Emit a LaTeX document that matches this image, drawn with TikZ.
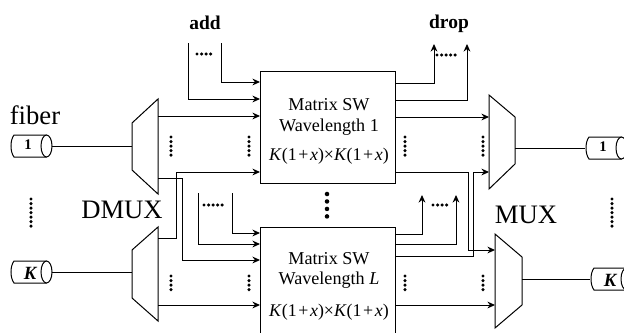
\documentclass[tikz,border=0pt]{standalone}
\usepackage{fontspec}
\setmainfont{Liberation Serif}
\usepackage{tikz}
\usetikzlibrary{arrows.meta,positioning,calc}
\tikzset{
  wire/.style={line width=0.75pt},
  wirearr/.style={-{Stealth[length=2mm,width=1.8mm]}, line width=0.75pt},
  trapz/.style={line width=0.75pt, line join=miter},
  dotcol/.style={line width=2.6pt, line cap=round, dash pattern=on 0pt off 3.4pt},
  swbox/.style={draw, line width=0.75pt, minimum width=101.25pt, inner sep=0pt, outer sep=0pt},
  fiberbox/.style={minimum height=16.5pt, minimum width=31.5pt, inner sep=0pt, outer sep=0pt},
  swtxt/.style={font=\fontsize{13.6}{15}\selectfont},
  swform/.style={font=\fontsize{13.4}{15}\selectfont},
  biglbl/.style={font=\fontsize{20}{22}\selectfont},
  toplbl/.style={font=\fontsize{14.6}{16}\selectfont\bfseries},
}
\newcommand{\formula}{\textit{K}(1\kern1.2pt+\kern1.2pt\textit{x})×\textit{K}(1\kern1.2pt+\kern1.2pt\textit{x})}
\newcommand{\fiberdraw}[2]{%
  \node[fiberbox] (#1) at #2 {};
  \draw[wire] ($(#1.north east)+(-5.5,0)$) -- ($(#1.north west)+(4,0)$)
    .. controls ($(#1.west)+(0,-6)$) and ($(#1.west)+(0,6)$) .. ($(#1.south west)+(4,0)$)
    -- ($(#1.south east)+(-5.5,0)$);
  \draw[wire] ($(#1.east)+(-5.5,0)$) ellipse [x radius=5.5, y radius=11];
}
\begin{document}
\begin{tikzpicture}[x=0.75pt,y=-0.75pt]
    \useasboundingbox (0,0) rectangle (624,332);
    % switch boxes
    \node[swbox, minimum height=84pt] (swa) at (327.5,127) {};
    \node[swbox, minimum height=79.5pt] (swb) at (327.5,280) {};
    \node[swtxt] (swatxta) at (329,105) {Matrix SW};
    \node[swtxt] (swatxtb) at (329,127) {Wavelength 1};
    \node[swform] (swaform) at (329,156) {\formula};
    \node[swtxt] (swbtxta) at (329,259) {Matrix SW};
    \node[swtxt] (swbtxtb) at (329,280) {Wavelength \textit{L}};
    \node[swform] (swbform) at (329,312) {\formula};
    % demux and mux
    \draw[trapz] (132,123) -- (158,99) -- (158,194) -- (132,170) -- cycle;
    \draw[trapz] (132,250) -- (158,227) -- (158,321) -- (132,298) -- cycle;
    \draw[trapz] (489,95) -- (515,117) -- (515,164) -- (489,189) -- cycle;
    \draw[trapz] (495,234) -- (522,257) -- (522,305) -- (495,328) -- cycle;
    % fibers
    \fiberdraw{fibin}{(31,146)}
    \fiberdraw{fibik}{(31,272)}
    \fiberdraw{fibout}{(606,148)}
    \fiberdraw{fibok}{(611,279)}
    \node[font=\fontsize{11}{12}\selectfont\bfseries] (labin) at (28,145) {1};
    \node[font=\fontsize{14}{15}\selectfont\bfseries\itshape] (labik) at (30,273) {K};
    \node[font=\fontsize{11}{12}\selectfont\bfseries] (labout) at (603,147) {1};
    \node[font=\fontsize{14}{15}\selectfont\bfseries\itshape] (labok) at (610,280) {K};
    \coordinate (dmaw) at (132,146);
    \coordinate (dmbw) at (132,272);
    \coordinate (muae) at (515,148);
    \coordinate (mube) at (522,279);
    \draw[wire] (fibin.east) -- (dmaw);
    \draw[wire] (fibik.east) -- (dmbw);
    \draw[wire] (muae) -- (fibout.west);
    \draw[wire] (mube) -- (fibok.west);
    % add ports
    \coordinate (adda) at (188,43);
    \coordinate (addb) at (221,43);
    \coordinate (addc) at (198,193);
    \coordinate (addd) at (232,193);
    \draw[wirearr] (adda) |- (swa.west |- 0,99);
    \draw[wirearr] (addb) |- (swa.west |- 0,82);
    \draw[wirearr] (addc) |- (swb.west |- 0,244);
    \draw[wirearr] (addd) |- (swb.west |- 0,233);
    % drop ports
    \coordinate (dropa) at (434,44);
    \coordinate (dropb) at (467,44);
    \coordinate (dropc) at (422,195);
    \coordinate (dropd) at (456,195);
    \draw[wirearr] (swa.east |- 0,83) -| (dropa);
    \draw[wirearr] (swa.east |- 0,100) -| (dropb);
    \draw[wirearr] (swb.east |- 0,234) -| (dropc);
    \draw[wirearr] (swb.east |- 0,244) -| (dropd);
    % through wires
    \draw[wirearr] (158,116) -- (swa.west |- 0,116);
    \draw[wirearr] (158,305) -- (swb.west |- 0,305);
    \draw[wirearr] (swa.east |- 0,117) -- (489,117);
    \draw[wirearr] (swb.east |- 0,305) -- (495,305);
    % crossing wires
    \draw[wirearr] (158,238) -- (176,238) |- (swa.west |- 0,172);
    \draw[wirearr] (158,178) -- (182,178) |- (swb.west |- 0,260);
    \draw[wirearr] (swa.east |- 0,172) -- (468,172) |- (495,250);
    \draw[wirearr] (swb.east |- 0,256) -- (473,256) |- (489,172);
    % dots
    \draw[dotcol] (171,137) -- (171,158);
    \draw[dotcol] (249,137) -- (249,158);
    \draw[dotcol] (171,276) -- (171,291);
    \draw[dotcol] (249,276) -- (249,291);
    \draw[dotcol] (405,137) -- (405,158);
    \draw[dotcol] (483,137) -- (483,158);
    \draw[dotcol] (405,276) -- (405,291);
    \draw[dotcol] (483,276) -- (483,291);
    \draw[dotcol] (197,54) -- (213,54);
    \draw[dotcol] (437,55) -- (459,55);
    \draw[dotcol] (204,205) -- (224,205);
    \draw[dotcol] (433,205) -- (447,205);
    \draw[dotcol] (31,199) -- (31,229);
    \draw[dotcol] (612,199) -- (612,230);
    \draw[dotcol, line width=3.4pt, dash pattern=on 0pt off 5.6pt] (327,194) -- (327,218);
    % labels
    \node[toplbl] (addlbl) at (205,23) {add};
    \node[toplbl] (droplbl) at (449,24) {drop};
    \node[biglbl] (fiberlbl) at (35,115) {fiber};
    \node[biglbl] (dmuxlbl) at (122,210) {DMUX};
    \node[biglbl] (muxlbl) at (526,215) {MUX};
\end{tikzpicture}
\end{document}
